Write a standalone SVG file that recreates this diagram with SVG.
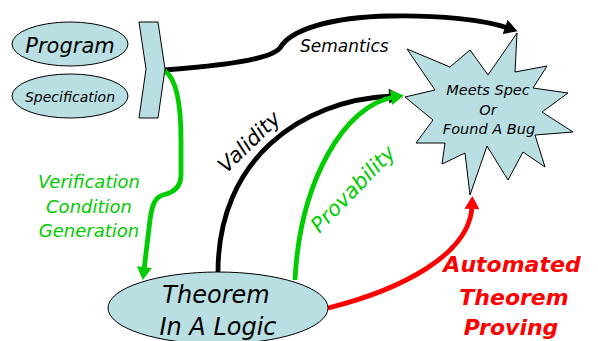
<svg xmlns="http://www.w3.org/2000/svg" width="598" height="341" viewBox="0 0 598 341">
<style>
.shape{fill:#b9dfe3;stroke:#000;stroke-width:1}
.t{font-family:"DejaVu Sans","Liberation Sans",sans-serif;font-style:italic}
.c{fill:none;stroke-width:4.8}
.k{stroke:#000}
.g{stroke:#00cc00}
.r{stroke:#ff0000}
</style>
<defs>
<marker id="ak" markerUnits="userSpaceOnUse" markerWidth="14" markerHeight="16" refX="3" refY="7.5" orient="auto" overflow="visible"><path d="M0,0 L13,7.5 L0,15 z" fill="#000"/></marker>
<marker id="ag" markerUnits="userSpaceOnUse" markerWidth="14" markerHeight="16" refX="3" refY="7.5" orient="auto" overflow="visible"><path d="M0,0 L13,7.5 L0,15 z" fill="#00cc00"/></marker>
<marker id="ar" markerUnits="userSpaceOnUse" markerWidth="14" markerHeight="16" refX="3" refY="7.5" orient="auto" overflow="visible"><path d="M0,0 L13,7.5 L0,15 z" fill="#ff0000"/></marker>
</defs>
<g id="connectors">
<path class="c k" d="M165,70 C220,66 270,60 280,48 C290,30 330,17 390,16 C440,15 485,20 508,28" marker-end="url(#ak)"/>
<path class="c g" d="M165,71 C178,80 181,110 181,140 L181,175 C181,188 172,193 163,195 C155,197 152,205 150,220 L144,270" marker-end="url(#ag)"/>
<path class="c k" d="M218,272 C218,160 300,100 392,96" marker-end="url(#ak)"/>
<path class="c g" d="M295,280 C300,180 345,105 394,97" marker-end="url(#ag)"/>
<path class="c r" d="M328,308 C400,290 470,255 472,206" marker-end="url(#ar)"/>
</g>
<g id="program">
<ellipse class="shape" cx="70" cy="44" rx="58" ry="22"/>
<text class="t" x="70" y="53" font-size="21" text-anchor="middle">Program</text>
</g>
<g id="specification">
<ellipse class="shape" cx="70" cy="96" rx="58" ry="22"/>
<text class="t" x="70" y="102" font-size="14" text-anchor="middle">Specification</text>
</g>
<g id="join">
<polygon class="shape" points="139,22 158,22 165,69 158,118 139,118 146,69"/>
</g>
<g id="result">
<polygon class="shape" points="405,97 435,90 407,49 450,67 470,50 488,75 517,33 515,72 547,66 533,88 568,93 542,112 573,132 535,135 545,167 523,152 508,180 487,146 470,195 465,153 442,164 445,143 416,143 433,120"/>
<text class="t" font-size="14.5" text-anchor="middle"><tspan x="488" y="95">Meets Spec</tspan><tspan x="488" y="115">Or</tspan><tspan x="489" y="134">Found A Bug</tspan></text>
</g>
<g id="theorem">
<ellipse class="shape" cx="218" cy="308" rx="110" ry="36"/>
<text class="t" font-size="24" text-anchor="middle"><tspan x="216" y="303">Theorem</tspan><tspan x="218" y="335">In A Logic</tspan></text>
</g>
<g id="labels">
<text class="t" x="300" y="52" font-size="17">Semantics</text>
<text class="t" font-size="18" fill="#00cc00" text-anchor="middle"><tspan x="89" y="188">Verification</tspan><tspan x="89" y="213">Condition</tspan><tspan x="89" y="237">Generation</tspan></text>
<text class="t" x="254" y="147" font-size="21" text-anchor="middle" transform="rotate(-44 254 147)">Validity</text>
<text class="t" x="358" y="194" font-size="21" fill="#00cc00" text-anchor="middle" transform="rotate(-46 358 194)">Provability</text>
<text class="t" font-size="22" font-weight="bold" fill="#ff0000" text-anchor="middle"><tspan x="512" y="272">Automated</tspan><tspan x="514" y="305">Theorem</tspan><tspan x="511" y="335">Proving</tspan></text>
</g>
</svg>
